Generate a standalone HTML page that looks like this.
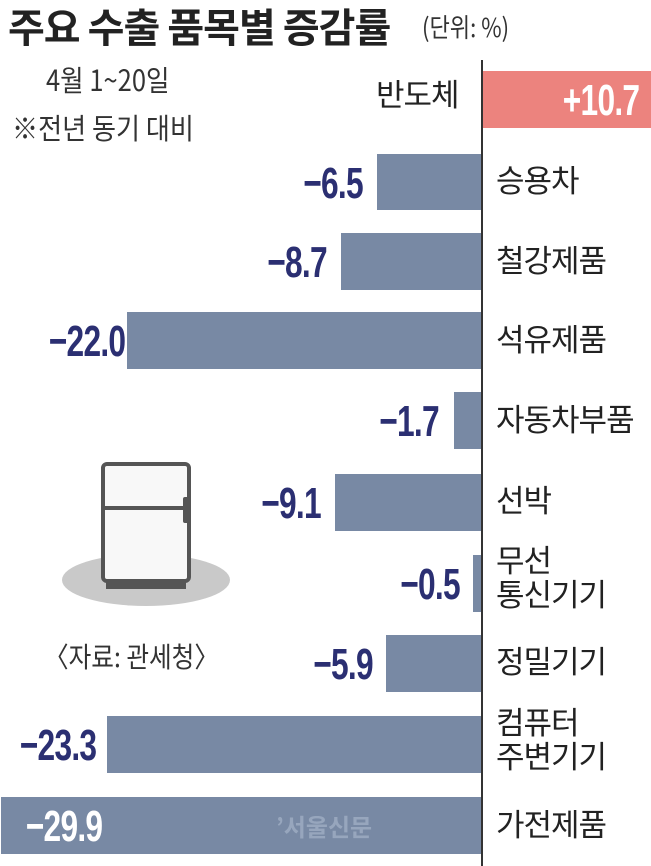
<!DOCTYPE html>
<html><head><meta charset="utf-8"><style>
body{margin:0;width:651px;height:866px;background:#fff;position:relative;overflow:hidden;font-family:"Liberation Sans","Noto Sans CJK KR",sans-serif}
.a{position:absolute;white-space:nowrap}
.bar{position:absolute;background:#7889a4}
.v{position:absolute;font-family:"Liberation Sans Narrow","Liberation Sans",sans-serif;font-weight:bold;font-size:44px;color:#2b2f72;transform:scaleX(0.72);transform-origin:right center;text-align:right;line-height:1;letter-spacing:-1px}
.c{position:absolute;left:496px;font-size:31px;color:#222;line-height:1.1;font-family:"Noto Sans CJK KR",sans-serif;letter-spacing:-1px}
</style></head><body>
<div class="a" style="left:8px;top:-4px;font-size:40px;font-weight:bold;color:#222;font-family:'Noto Sans CJK KR',sans-serif;letter-spacing:-1px">주요 수출 품목별 증감률</div>
<div class="a" style="left:422px;top:8px;font-size:26px;color:#333;font-family:'Noto Sans CJK KR',sans-serif;transform:scaleX(0.85);transform-origin:left">(단위: %)</div>
<div class="a" style="left:46px;top:58px;font-size:29px;color:#333;font-family:'Noto Sans CJK KR',sans-serif;transform:scaleX(0.88);transform-origin:left">4월 1~20일</div>
<div class="a" style="left:12px;top:106px;font-size:29px;color:#333;font-family:'Noto Sans CJK KR',sans-serif;transform:scaleX(0.9);transform-origin:left">※전년 동기 대비</div>
<div class="a" style="left:44px;top:636px;font-size:28px;color:#333;font-family:'Noto Sans CJK KR',sans-serif;transform:scaleX(0.88);transform-origin:left">〈자료: 관세청〉</div>
<div style="position:absolute;left:481px;top:60px;width:2px;height:806px;background:#333"></div>
<div class="bar" style="left:483px;top:71px;width:168px;height:57px;background:#ec837e"></div>
<div class="v" style="right:12px;top:79px;color:#fff">+10.7</div>
<div class="c" style="left:376px;top:76px">반도체</div>
<svg style="position:absolute;left:0;top:0" width="651" height="866">
<ellipse cx="146" cy="580" rx="84" ry="26" fill="#c9c9c9"/>
<rect x="106" y="580" width="80" height="9" fill="#555"/>
<rect x="103" y="464" width="86" height="117" rx="4" fill="#f8f8f8" stroke="#555" stroke-width="4"/>
<line x1="103" y1="508" x2="189" y2="508" stroke="#555" stroke-width="4"/>
<rect x="183" y="497" width="7" height="26" rx="2" fill="#555"/>
</svg>
<div class="bar" style="left:377px;top:154px;width:104px;height:56px"></div>
<div class="v" style="right:288px;top:162px">−6.5</div><div class="c" style="top:162px">승용차</div>
<div class="bar" style="left:341px;top:233px;width:140px;height:57px"></div>
<div class="v" style="right:324px;top:241px">−8.7</div><div class="c" style="top:242px">철강제품</div>
<div class="bar" style="left:127px;top:312px;width:354px;height:57px"></div>
<div class="v" style="right:526px;top:320px">−22.0</div><div class="c" style="top:321px">석유제품</div>
<div class="bar" style="left:454px;top:392px;width:27px;height:57px"></div>
<div class="v" style="right:212px;top:400px">−1.7</div><div class="c" style="top:401px">자동차부품</div>
<div class="bar" style="left:335px;top:474px;width:146px;height:57px"></div>
<div class="v" style="right:330px;top:482px">−9.1</div><div class="c" style="top:482px">선박</div>
<div class="bar" style="left:473px;top:555px;width:8px;height:57px"></div>
<div class="v" style="right:191px;top:563px">−0.5</div><div class="c" style="top:542px">무선<br>통신기기</div>
<div class="bar" style="left:386px;top:635px;width:95px;height:57px"></div>
<div class="v" style="right:278px;top:643px">−5.9</div><div class="c" style="top:643px">정밀기기</div>
<div class="bar" style="left:107px;top:716px;width:374px;height:57px"></div>
<div class="v" style="right:555px;top:724px">−23.3</div><div class="c" style="top:704px">컴퓨터<br>주변기기</div>
<div class="bar" style="left:1px;top:797px;width:480px;height:57px"></div>
<div class="v" style="right:549px;top:805px;color:#fff">−29.9</div>
<div class="a" style="left:276px;top:808px;font-size:24px;color:#97a6bd;font-weight:bold;font-family:'Noto Sans CJK KR',sans-serif">’서울신문</div>
<div class="c" style="top:806px">가전제품</div>
</body></html>
